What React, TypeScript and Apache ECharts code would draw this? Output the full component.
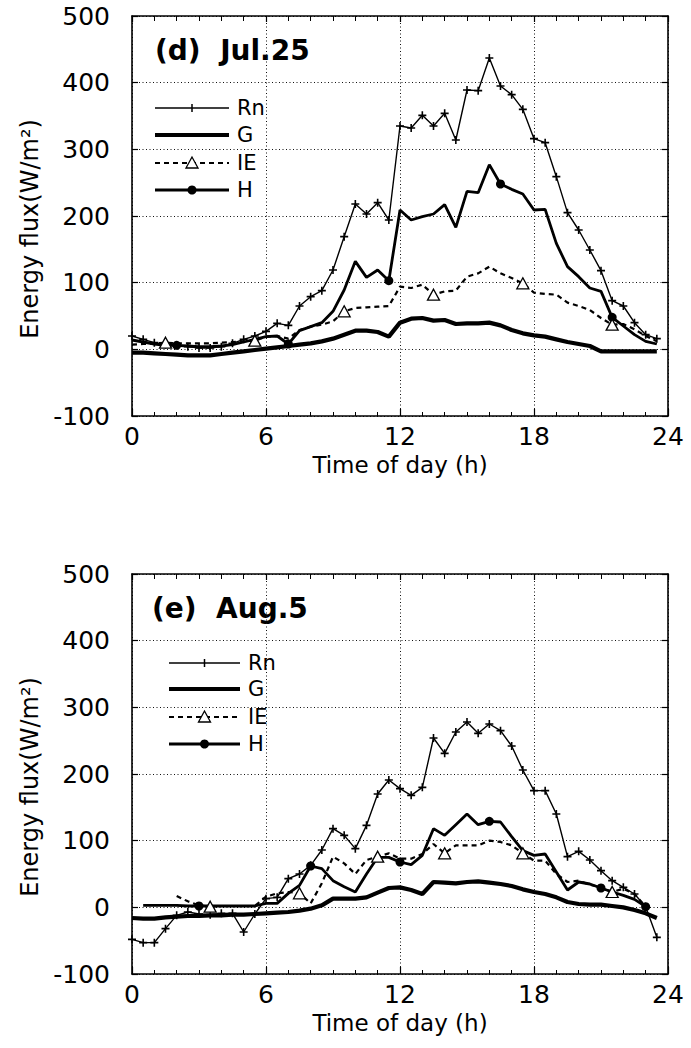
import React, { useEffect, useRef } from "react";
import * as echarts from "echarts";

const HOURS = [0, 0.5, 1, 1.5, 2, 2.5, 3, 3.5, 4, 4.5, 5, 5.5, 6, 6.5, 7, 7.5, 8, 8.5, 9, 9.5, 10, 10.5, 11, 11.5,
  12, 12.5, 13, 13.5, 14, 14.5, 15, 15.5, 16, 16.5, 17, 17.5, 18, 18.5, 19, 19.5, 20, 20.5, 21, 21.5, 22, 22.5, 23, 23.5];
const X_TICKS = [0, 6, 12, 18, 24];
const Y_TICKS = [-100, 0, 100, 200, 300, 400, 500];

// (d) Jul.25
const RN_D = [20, 15, 10, 7, 6, 4, 2, 2, 4, 9, 15, 20, 27, 39, 36, 65, 79, 88, 119, 169, 218, 203, 220, 194,
  335, 332, 351, 335, 354, 314, 389, 388, 437, 395, 382, 360, 316, 310, 259, 205, 179, 149, 118, 73, 65, 40, 22, 16];
const G_D = [-5, -5, -6, -7, -8, -9, -9, -9, -7, -5, -3, -1, 1, 3, 5, 7, 9, 12, 16, 22, 28, 28, 26, 19,
  40, 46, 47, 43, 44, 38, 39, 39, 40, 36, 29, 24, 21, 19, 15, 11, 8, 5, -3, -3, -3, -3, -3, -3];
const IE_D = [7, 8, 9, 10, 9, 9, 9, 9, 10, 11, 12, 13, 19, 20, 16, 29, 34, 37, 42, 57, 62, 63, 64, 65,
  94, 92, 97, 82, 87, 88, 109, 114, 124, 114, 107, 99, 85, 83, 82, 70, 65, 59, 47, 37, 38, 30, 20, 12];
const H_D = [14, 11, 8, 6, 6, 5, 4, 4, 5, 7, 11, 15, 19, 20, 8, 28, 34, 40, 57, 89, 132, 108, 119, 103,
  209, 194, 199, 203, 217, 183, 237, 235, 277, 248, 240, 233, 209, 210, 159, 124, 109, 92, 87, 48, 35, 22, 12, 8];
const IE_MARKS_D = [3, 11, 19, 27, 35, 43];
const H_MARKS_D = [4, 14, 23, 33, 43];

// (e) Aug.5
const RN_E = [-48, -53, -53, -32, -12, -7, -10, -11, -9, -9, -37, -10, 13, 15, 43, 50, 63, 86, 118, 108, 88, 123, 170, 191,
  178, 168, 180, 254, 231, 263, 278, 261, 275, 265, 242, 206, 175, 175, 140, 76, 84, 71, 55, 40, 30, 20, 1, -45];
const G_E = [-16, -17, -17, -15, -14, -13, -13, -12, -12, -11, -11, -10, -9, -8, -7, -5, -2, 3, 13, 13, 13, 15, 22, 29,
  30, 26, 20, 38, 37, 36, 38, 39, 37, 35, 32, 27, 23, 20, 15, 8, 5, 4, 4, 2, 0, -4, -9, -16];
const IE_E = [null, null, null, null, 17, 9, 3, 1, 2, 2, 2, 2, 16, 21, 23, 21, 6, 36, 76, 66, 50, 71, 76, 81,
  73, 73, 80, 95, 81, 93, 93, 93, 100, 98, 93, 81, 70, 70, 50, 38, 40, 34, 30, 23, 28, 20, 1, null];
const H_E = [null, 3, 3, 3, 3, 2, 2, 2, 2, 2, 2, 2, 6, 6, 21, 33, 62, 58, 40, 31, 23, 50, 75, 75,
  68, 64, 78, 118, 108, 124, 140, 124, 129, 128, 106, 85, 78, 80, 53, 26, 38, 35, 29, 23, 18, 12, 1, null];
const IE_MARKS_E = [7, 15, 22, 28, 35, 43];
const H_MARKS_E = [6, 16, 24, 32, 42, 46];

const SERIES_NAMES = ["Rn", "G", "IE", "H"];
const TITLES = ["(d)  Jul.25", "(e)  Aug.5"];
const X_NAME = "Time of day (h)";
const Y_NAME = "Energy flux(W/m²)";

const FONT = "DejaVu Sans";
const PLUS = "path://M4,0 L6,0 L6,4 L10,4 L10,6 L6,6 L6,10 L4,10 L4,6 L0,6 L0,4 L4,4 Z";
const TRI_STYLE = { color: "#fff", borderColor: "#000", borderWidth: 1.3 };

function build(values: (number | null)[], marks: number[], symbol: string, size: any, itemStyle: any) {
  return HOURS.map((h, i) => {
    const v = values[i] == null ? "-" : values[i];
    if (marks.indexOf(i) >= 0) return { value: [h, v], symbol, symbolSize: size, itemStyle };
    return [h, v];
  });
}

const GRIDS = [
  { left: 132, top: 16, width: 536, height: 400 },
  { left: 132, top: 574, width: 536, height: 400 },
];

export default function App() {
  const ref = useRef<HTMLDivElement>(null);
  useEffect(() => {
    if (!ref.current) return;
    const chart = echarts.init(ref.current, undefined, { renderer: "svg" });

    const xAxes: any[] = [];
    const yAxes: any[] = [];
    const grid = { show: true, lineStyle: { color: "#111", type: [1, 2.5], width: 1 } };
    GRIDS.forEach((_, g) => {
      const lineStyle = { color: "#000", width: 1.6 };
      xAxes.push({
        gridIndex: g, type: "value", position: "bottom",
        min: X_TICKS[0], max: X_TICKS[X_TICKS.length - 1], interval: 6,
        axisLine: { show: true, onZero: false, lineStyle },
        axisTick: { show: true, inside: true, length: 7, lineStyle: { color: "#000", width: 1.2 } },
        minorTick: { show: true, splitNumber: 6, length: 4, lineStyle: { color: "#000", width: 1 } },
        axisLabel: { color: "#000", fontFamily: FONT, fontSize: 25, margin: 8 },
        splitLine: grid,
        name: X_NAME, nameLocation: "middle", nameGap: 37,
        nameTextStyle: { color: "#000", fontFamily: FONT, fontSize: 23 },
      });
      xAxes.push({
        gridIndex: g, type: "value", position: "top",
        min: X_TICKS[0], max: X_TICKS[X_TICKS.length - 1], interval: 6,
        axisLine: { show: true, onZero: false, lineStyle },
        axisTick: { show: true, inside: true, length: 6, lineStyle: { color: "#000", width: 1.2 } },
        minorTick: { show: true, splitNumber: 6, length: 5, lineStyle: { color: "#000", width: 1 } },
        axisLabel: { show: false },
        splitLine: { show: false },
      });
      yAxes.push({
        gridIndex: g, type: "value", position: "left",
        min: Y_TICKS[0], max: Y_TICKS[Y_TICKS.length - 1], interval: 100,
        axisLine: { show: true, onZero: false, lineStyle },
        axisTick: { show: true, inside: true, length: 6, lineStyle: { color: "#000", width: 1.2 } },
        axisLabel: { color: "#000", fontFamily: FONT, fontSize: 25, margin: 22, padding: [12, 0, 0, 0] },
        splitLine: grid,
      });
      yAxes.push({
        gridIndex: g, type: "value", position: "right",
        min: Y_TICKS[0], max: Y_TICKS[Y_TICKS.length - 1], interval: 100,
        axisLine: { show: true, onZero: false, lineStyle },
        axisTick: { show: true, inside: true, length: 6, lineStyle: { color: "#000", width: 1.2 } },
        axisLabel: { show: false },
        splitLine: { show: false },
      });
    });

    const panels = [
      { rn: RN_D, g: G_D, ie: IE_D, h: H_D, ieM: IE_MARKS_D, hM: H_MARKS_D },
      { rn: RN_E, g: G_E, ie: IE_E, h: H_E, ieM: IE_MARKS_E, hM: H_MARKS_E },
    ];
    const series: any[] = [];
    panels.forEach((p, k) => {
      const axis = { xAxisIndex: k * 2, yAxisIndex: k * 2 };
      series.push({
        ...axis, type: "line", name: SERIES_NAMES[0], data: build(p.rn, [], "none", 0, null),
        symbol: PLUS, symbolSize: 8, showSymbol: true, itemStyle: { color: "#000" },
        lineStyle: { color: "#000", width: 1.4 }, z: 3,
      });
      series.push({
        ...axis, type: "line", name: SERIES_NAMES[1], data: build(p.g, [], "none", 0, null),
        symbol: "none", lineStyle: { color: "#000", width: 4.2 }, z: 2,
      });
      series.push({
        ...axis, type: "line", name: SERIES_NAMES[2], data: build(p.ie, p.ieM, "triangle", [12, 11], TRI_STYLE),
        symbol: "none", itemStyle: { color: "#000" }, lineStyle: { color: "#000", width: 2.2, type: [5, 4] }, z: 4,
      });
      series.push({
        ...axis, type: "line", name: SERIES_NAMES[3], data: build(p.h, p.hM, "circle", 9, { color: "#000" }),
        symbol: "none", itemStyle: { color: "#000" }, lineStyle: { color: "#000", width: 2.8 }, z: 3,
      });
    });

    const graphic: any[] = [];
    const legendPos = [
      { x0: 155, x1: 229, lx: 237, ys: [108, 135, 163, 190] },
      { x0: 169, x1: 240, lx: 248, ys: [663, 689, 717, 744] },
    ];
    const titlePos = [{ x: 155, y: 50 }, { x: 152, y: 608 }];
    const yNamePos = [229, 787];
    legendPos.forEach((L, k) => {
      const mid = (L.x0 + L.x1) / 2;
      const widths = [1.4, 4.2, 2.2, 2.8];
      L.ys.forEach((y, i) => {
        graphic.push({
          type: "line", shape: { x1: L.x0, y1: y, x2: L.x1, y2: y },
          style: { stroke: "#000", lineWidth: widths[i], lineDash: i === 2 ? [5, 4] : null },
        });
        graphic.push({
          type: "text", x: L.lx, y,
          style: { text: SERIES_NAMES[i], fontFamily: FONT, fontSize: 21, fill: "#000", align: "left", verticalAlign: "middle" },
        });
      });
      graphic.push({ type: "line", shape: { x1: mid, y1: L.ys[0] - 4, x2: mid, y2: L.ys[0] + 4 }, style: { stroke: "#000", lineWidth: 1.5 } });
      graphic.push({
        type: "polygon", shape: { points: [[mid, L.ys[2] - 6], [mid - 6, L.ys[2] + 5], [mid + 6, L.ys[2] + 5]] },
        style: { fill: "#fff", stroke: "#000", lineWidth: 1.3 },
      });
      graphic.push({ type: "circle", shape: { cx: mid, cy: L.ys[3], r: 4.5 }, style: { fill: "#000" } });
      graphic.push({
        type: "text", x: titlePos[k].x, y: titlePos[k].y,
        style: { text: TITLES[k], fontFamily: FONT, fontSize: 28, fontWeight: "bold", fill: "#000", align: "left", verticalAlign: "middle" },
      });
      graphic.push({
        type: "text", x: 30, y: yNamePos[k], rotation: Math.PI / 2,
        style: { text: Y_NAME, fontFamily: FONT, fontSize: 24, fill: "#000", align: "center", verticalAlign: "middle" },
      });
    });

    chart.setOption({
      animation: false,
      backgroundColor: "#fff",
      textStyle: { fontFamily: FONT },
      grid: GRIDS.map((g) => ({ ...g, containLabel: false })),
      xAxis: xAxes,
      yAxis: yAxes,
      series,
      graphic,
    });
    return () => chart.dispose();
  }, []);
  return <div ref={ref} style={{ position: "absolute", left: 0, top: 0, width: 691, height: 1048 }} />;
}
